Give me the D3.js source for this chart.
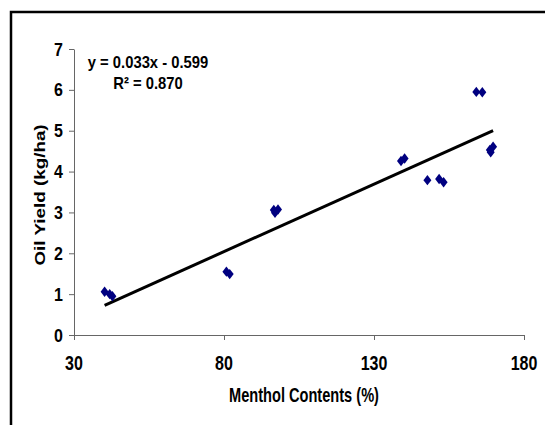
<!DOCTYPE html>
<html>
<head>
<meta charset="utf-8">
<script src="https://cdn.jsdelivr.net/npm/d3@7"></script>
<style>
  body { margin: 0; background: #fff; }
  text { font-family: "Liberation Sans", Arial, sans-serif; font-weight: bold; }
</style>
</head>
<body>
<div id="chart"></div>
<script>
var width = 545;
var height = 425;

// data
var menthol = [40.2, 41.9, 42.8, 80.8, 81.9, 96.6, 97.0, 98.0, 139.0, 140.2, 147.8, 151.7, 153.2, 164.1, 166.1, 168.6, 168.9, 169.7];
var oilYield = [1.06, 1.00, 0.95, 1.55, 1.49, 3.06, 2.99, 3.07, 4.26, 4.32, 3.79, 3.82, 3.74, 5.95, 5.94, 4.53, 4.47, 4.61];
var xTicks = [30, 80, 130, 180];
var yTicks = [0, 1, 2, 3, 4, 5, 6, 7];
var slope = 0.033;
var intercept = -0.599;
var eqLines = ["y = 0.033x - 0.599", "R\u00B2 = 0.870"];

var svg = d3.select("#chart")
  .append("svg")
  .attr("width", width)
  .attr("height", height);

// outer frame (only left and top show in the window)
svg.append("rect")
  .attr("x", 11)
  .attr("y", 12)
  .attr("width", 700)
  .attr("height", 600)
  .style("fill", "none")
  .style("stroke", "#000")
  .style("stroke-width", 2.5);

var x = d3.scaleLinear().domain([30, 180]).range([74, 524]);
var y = d3.scaleLinear().domain([0, 7]).range([335, 49]);

// axes
svg.append("g")
  .attr("transform", "translate(0," + y(0) + ")")
  .call(d3.axisBottom(x).tickValues(xTicks).tickSize(5).tickSizeOuter(0).tickFormat(""));
svg.append("g")
  .attr("transform", "translate(" + x(30) + ",0)")
  .call(d3.axisLeft(y).tickValues(yTicks).tickSize(5).tickSizeOuter(0).tickFormat(""));
svg.selectAll(".domain, .tick line").style("stroke", "#666").style("stroke-width", 1);

// tick labels, stretched vertically like the picture
svg.selectAll(".xlab")
  .data(xTicks)
  .enter().append("text")
  .attr("text-anchor", "middle")
  .attr("transform", function(d) { return "translate(" + x(d) + ",370) scale(1,1.25)"; })
  .style("font-size", "16px")
  .text(function(d) { return d; });

svg.selectAll(".ylab")
  .data(yTicks)
  .enter().append("text")
  .attr("text-anchor", "end")
  .attr("transform", function(d) { return "translate(63," + (y(d) + 6.5) + ") scale(1,1.15)"; })
  .style("font-size", "16px")
  .text(function(d) { return d; });

// axis titles
svg.append("text")
  .attr("text-anchor", "middle")
  .attr("transform", "translate(304,402) scale(1,1.4)")
  .style("font-size", "14.6px")
  .text("Menthol Contents (%)");

svg.append("text")
  .attr("text-anchor", "middle")
  .attr("transform", "translate(45,195) rotate(-90) scale(1.3,1)")
  .style("font-size", "14.5px")
  .text("Oil Yield (kg/ha)");

// trend line
var xMin = d3.min(menthol), xMax = d3.max(menthol);
svg.append("line")
  .attr("x1", x(xMin))
  .attr("y1", y(slope * xMin + intercept))
  .attr("x2", x(xMax))
  .attr("y2", y(slope * xMax + intercept))
  .style("stroke", "#000")
  .style("stroke-width", 3);

// diamonds
var diamond = "M0,-5.2L4,0L0,5.2L-4,0Z";
svg.selectAll(".pt")
  .data(menthol)
  .enter().append("path")
  .attr("d", diamond)
  .attr("transform", function(d, i) { return "translate(" + x(d) + "," + y(oilYield[i]) + ")"; })
  .style("fill", "#000080");

// equation
svg.selectAll(".eq")
  .data(eqLines)
  .enter().append("text")
  .attr("text-anchor", "middle")
  .attr("transform", function(d, i) { return "translate(148," + (68 + i * 21) + ") scale(1,1.15)"; })
  .style("font-size", "14.8px")
  .text(function(d) { return d; });
</script>
</body>
</html>
